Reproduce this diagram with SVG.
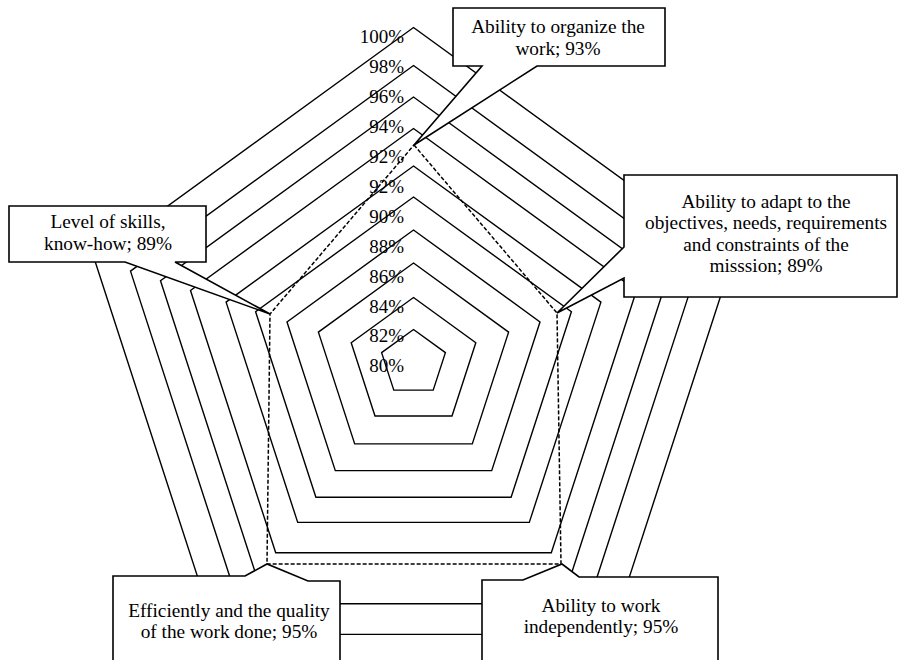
<svg xmlns="http://www.w3.org/2000/svg" width="899" height="660" viewBox="0 0 899 660">
<style>
.ring{fill:none;stroke:#000;stroke-width:1.4;stroke-linejoin:miter}
.data{fill:none;stroke:#000;stroke-width:1.5;stroke-dasharray:4 2}
.callout{fill:#fff;stroke:#000;stroke-width:1.6;stroke-linejoin:miter}
text{font-family:"Liberation Serif","Times New Roman",serif;font-size:19.3px;fill:#000}
.ax{text-anchor:end;font-size:19px}
.c{text-anchor:middle}
</style>
<rect width="899" height="660" fill="#fff"/>
<g id="grid">
<polygon class="ring" points="413.5,329.5 445.4,352.6 433.2,390.1 393.8,390.1 381.6,352.6"/>
<polygon class="ring" points="413.5,297.5 475.8,342.8 452.0,416.0 375.0,416.0 351.2,342.8"/>
<polygon class="ring" points="413.5,263 508.6,332.1 472.3,443.9 354.7,443.9 318.4,332.1"/>
<polygon class="ring" points="413.5,230 540.0,321.9 491.7,470.6 335.3,470.6 287.0,321.9"/>
<polygon class="ring" points="413.5,197 571.4,311.7 511.1,497.3 315.9,497.3 255.6,311.7"/>
<polygon class="ring" points="413.5,166 600.9,302.1 529.3,522.4 297.7,522.4 226.1,302.1"/>
<polygon class="ring" points="413.5,128.5 636.5,290.5 551.3,552.7 275.7,552.7 190.5,290.5"/>
<polyline class="ring" points="257.1,578.2 160.5,280.8 413.5,97 666.5,280.8 569.9,578.2"/>
<polygon class="ring" points="413.5,65.5 696.5,271.1 588.4,603.7 238.6,603.7 130.5,271.1"/>
<polygon class="ring" points="413.5,27.5 732.6,259.3 610.7,634.4 216.3,634.4 94.4,259.3"/>
</g>
<g id="axis-labels">
<text class="ax" x="404" y="43">100%</text>
<text class="ax" x="404" y="73">98%</text>
<text class="ax" x="404" y="103">96%</text>
<text class="ax" x="404" y="133">94%</text>
<text class="ax" x="404" y="163">92%</text>
<text class="ax" x="404" y="193">92%</text>
<text class="ax" x="404" y="223">90%</text>
<text class="ax" x="404" y="253">88%</text>
<text class="ax" x="404" y="283">86%</text>
<text class="ax" x="404" y="313">84%</text>
<text class="ax" x="404" y="342">82%</text>
<text class="ax" x="404" y="372">80%</text>
</g>
<g id="connectors">
<polygon class="data" points="414,145 557,313 561,564 267,564 270,314"/>
</g>
<g id="organize">
<path class="callout" d="M453,8 H665 V66 H537 L414,145 L482,66 H453 Z"/>
<text class="c" x="558" y="33">Ability to organize the</text>
<text class="c" x="558" y="55">work; 93%</text>
</g>
<g id="adapt">
<path class="callout" d="M624,175 H897 V297 H624 V278 L557,313 L624,247 Z"/>
<text class="c" x="766" y="208">Ability to adapt to the</text>
<text class="c" x="766" y="229">objectives, needs, requirements</text>
<text class="c" x="766" y="251">and constraints of the</text>
<text class="c" x="766" y="272">misssion; 89%</text>
</g>
<g id="skills">
<path class="callout" d="M9,206 H206 V262 H175 L270,314 L125,262 H9 Z"/>
<text class="c" x="108" y="228">Level of skills,</text>
<text class="c" x="108" y="250">know-how; 89%</text>
</g>
<g id="efficiency">
<path class="callout" d="M113,664 V576 H245 L267,564 L308,581 H340 V664 Z"/>
<text class="c" x="229" y="617">Efficiently and the quality</text>
<text class="c" x="229" y="638">of the work done; 95%</text>
</g>
<g id="independent">
<path class="callout" d="M482,664 V580 H523 L562,564 L579,577 H718 V664 Z"/>
<text class="c" x="601" y="612">Ability to work</text>
<text class="c" x="601" y="633">independently; 95%</text>
</g>
</svg>
